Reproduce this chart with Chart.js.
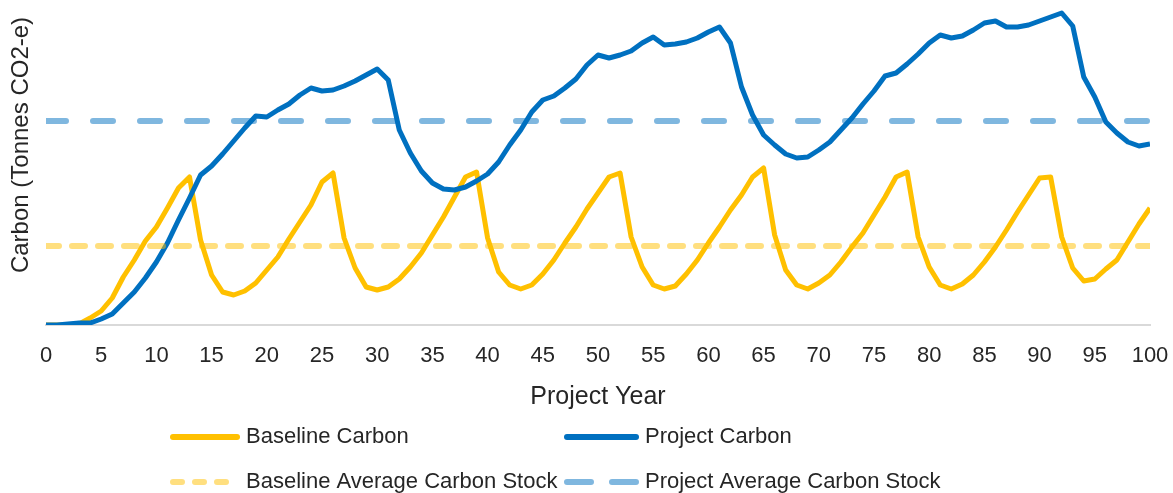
<!DOCTYPE html>
<html>
<head>
<meta charset="utf-8">
<script src="https://cdn.jsdelivr.net/npm/chart.js@4/dist/chart.umd.min.js"></script>
<style>
  html, body { margin: 0; padding: 0; background: #ffffff; }
  #wrap { width: 1173px; height: 493px; position: relative; }
</style>
</head>
<body>
<div id="wrap"><canvas id="carbon"></canvas></div>
<script>
// project years on the x axis
var years = [0, 1, 2, 3, 4, 5, 6, 7, 8, 9, 10, 11, 12, 13, 14, 15, 16, 17, 18, 19, 20,
  21, 22, 23, 24, 25, 26, 27, 28, 29, 30, 31, 32, 33, 34, 35, 36, 37, 38, 39, 40,
  41, 42, 43, 44, 45, 46, 47, 48, 49, 50, 51, 52, 53, 54, 55, 56, 57, 58, 59, 60,
  61, 62, 63, 64, 65, 66, 67, 68, 69, 70, 71, 72, 73, 74, 75, 76, 77, 78, 79, 80,
  81, 82, 83, 84, 85, 86, 87, 88, 89, 90, 91, 92, 93, 94, 95, 96, 97, 98, 99, 100];

// carbon stock (no units shown on the axis)
var baselineCarbon = [0, 0, 0, 1, 7, 14, 27, 48, 65, 84, 98, 117, 137, 148, 85, 50, 33, 30, 34, 42, 55,
  68, 86, 103, 120, 143, 152, 87, 57, 38, 35, 38, 46, 58, 72, 90, 108, 128, 148, 153, 87,
  53, 40, 36, 40, 51, 65, 82, 98, 116, 132, 148, 152, 88, 58, 40, 36, 39, 51, 65, 82,
  98, 115, 130, 148, 157, 90, 55, 40, 36, 42, 50, 63, 78, 92, 110, 128, 148, 153, 88, 58,
  40, 36, 41, 50, 63, 78, 95, 113, 130, 147, 148, 88, 57, 44, 46, 56, 65, 83, 101, 117];

var projectCarbon = [0, 0, 1, 2, 2, 6, 11, 22, 33, 47, 63, 82, 105, 127, 150, 159, 171, 184, 197, 209, 208,
  215, 221, 230, 237, 234, 235, 239, 244, 250, 256, 245, 195, 172, 154, 142, 136, 135, 138, 144, 151,
  163, 180, 195, 213, 225, 229, 237, 246, 260, 270, 267, 270, 274, 282, 288, 280, 281, 283, 287, 293,
  298, 282, 238, 210, 190, 180, 171, 167, 168, 175, 183, 195, 207, 221, 234, 249, 252, 261, 271, 282,
  290, 287, 289, 295, 302, 304, 298, 298, 300, 304, 308, 312, 299, 248, 228, 203, 192, 183, 179, 181];

var avgYears = [0, 100];
var baselineAverage = [79, 79];
var projectAverage = [204, 204];

var FONT = "'Liberation Sans', Arial, sans-serif";
var TEXT = '#262626';

function toPoints(xs, ys) {
  return ys.map(function (v, i) { return { x: xs[i], y: v }; });
}

// legend drawn as a 2 x 2 grid under the axis title, plus the y title
var legendLineStart = [170, 564];
var legendLineEnd = [240, 639];
var legendTextX = [246, 645];
var legendRowY = [437, 482];

var carbonLegend = {
  id: 'carbonLegend',
  afterDraw: function (chart) {
    var ctx = chart.ctx;

    ctx.save();
    ctx.translate(21, 145);
    ctx.rotate(-Math.PI / 2);
    ctx.font = '24px ' + FONT;
    ctx.fillStyle = TEXT;
    ctx.textAlign = 'center';
    ctx.textBaseline = 'middle';
    ctx.fillText('Carbon (Tonnes CO2-e)', 0, 0);
    ctx.restore();

    chart.data.datasets.forEach(function (ds, i) {
      var col = i % 2, row = Math.floor(i / 2);
      var y = legendRowY[row];
      ctx.save();
      ctx.strokeStyle = ds.borderColor;
      ctx.lineWidth = 6;
      ctx.lineCap = 'round';
      ctx.setLineDash(ds.legendDash || []);
      ctx.beginPath();
      ctx.moveTo(legendLineStart[col] + 3, y);
      ctx.lineTo(legendLineEnd[col] - 3, y);
      ctx.stroke();
      ctx.setLineDash([]);
      ctx.font = '22px ' + FONT;
      ctx.fillStyle = TEXT;
      ctx.textAlign = 'left';
      ctx.textBaseline = 'middle';
      ctx.fillText(ds.label, legendTextX[col], y);
      ctx.restore();
    });
  }
};

var ctx = document.getElementById('carbon').getContext('2d');
var chart = new Chart(ctx, {
  type: 'line',
  data: {
    datasets: [{
      label: 'Baseline Carbon',
      data: toPoints(years, baselineCarbon),
      borderColor: '#FFC000',
      borderWidth: 5,
      order: 2
    }, {
      label: 'Project Carbon',
      data: toPoints(years, projectCarbon),
      borderColor: '#0070C0',
      borderWidth: 5,
      order: 1
    }, {
      label: 'Baseline Average Carbon Stock',
      data: toPoints(avgYears, baselineAverage),
      borderColor: 'rgba(255, 192, 0, 0.5)',
      borderWidth: 6,
      borderDash: [13, 13],
      borderCapStyle: 'round',
      legendDash: [9, 13],
      order: 0
    }, {
      label: 'Project Average Carbon Stock',
      data: toPoints(avgYears, projectAverage),
      borderColor: 'rgba(0, 112, 192, 0.5)',
      borderWidth: 6,
      borderDash: [20, 27],
      borderCapStyle: 'round',
      legendDash: [24, 21],
      order: 0
    }]
  },
  options: {
    responsive: true,
    maintainAspectRatio: false,
    animation: false,
    layout: { padding: { left: 46, right: 23, top: 0, bottom: 81 } },
    elements: { point: { radius: 0 }, line: { tension: 0, borderJoinStyle: 'round' } },
    plugins: {
      legend: { display: false },
      tooltip: { enabled: false }
    },
    scales: {
      x: {
        type: 'linear',
        min: 0,
        max: 100,
        ticks: {
          stepSize: 5,
          padding: 18,
          maxRotation: 0,
          autoSkip: false,
          color: TEXT,
          font: { family: FONT, size: 22 }
        },
        grid: { display: false, drawTicks: false },
        border: { display: true, color: '#d9d9d9', width: 2 },
        title: {
          display: true,
          text: 'Project Year',
          color: TEXT,
          padding: 0,
          font: { family: FONT, size: 25 }
        },
        afterFit: function (scale) {
          scale.height = 87;
          scale.paddingRight = 10;
        }
      },
      y: {
        display: false,
        min: 0,
        max: 325
      }
    }
  },
  plugins: [carbonLegend]
});
</script>
</body>
</html>
